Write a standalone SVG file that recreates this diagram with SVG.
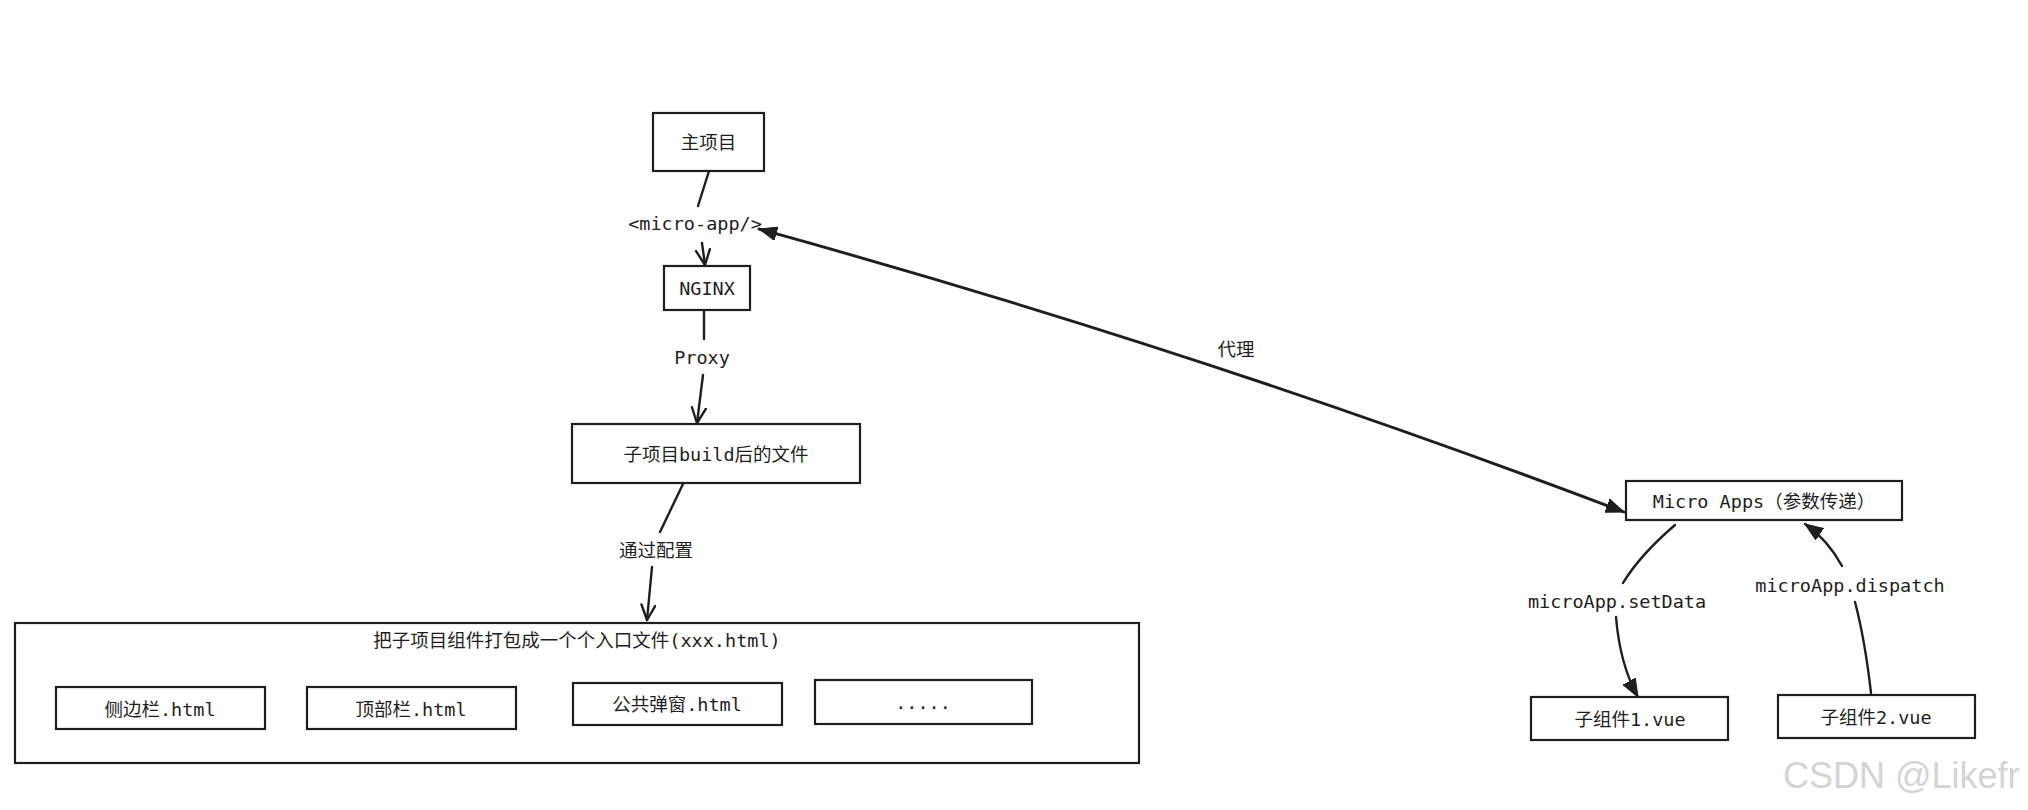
<svg xmlns="http://www.w3.org/2000/svg" width="2028" height="810" viewBox="0 0 2028 810">
<style>
.box{fill:#ffffff;stroke:#1e1e1e;stroke-width:2.2}
.t{font-family:"DejaVu Sans Mono","Noto Sans CJK SC",monospace;font-size:18.5px;fill:#1e1e1e;text-anchor:middle;dominant-baseline:central}
.c{fill:none;stroke:#1e1e1e;stroke-width:2.4;stroke-linecap:round}
.wm{font-family:"Liberation Sans",Arial,sans-serif;font-size:36px;fill:#d4d4d4;text-anchor:start}
</style>
<defs>
<marker id="open" markerUnits="userSpaceOnUse" markerWidth="20" markerHeight="20" refX="16" refY="8" orient="auto">
<path d="M1,1 L16,8 L1,15" fill="none" stroke="#1e1e1e" stroke-width="2.4" stroke-linecap="round" stroke-linejoin="round"/>
</marker>
<marker id="tri" markerUnits="userSpaceOnUse" markerWidth="22" markerHeight="16" refX="18" refY="7" orient="auto-start-reverse">
<path d="M0,0 L18,7 L0,14 Z" fill="#1e1e1e" stroke="#1e1e1e" stroke-width="1"/>
</marker>
</defs>
<rect width="2028" height="810" fill="#ffffff"/>

<g id="connectors">
<path class="c" d="M709,171 L698,206"/>
<path class="c" d="M702,243 L705,265" marker-end="url(#open)"/>
<path class="c" d="M704,310 L704,339"/>
<path class="c" d="M703,375 L697,423" marker-end="url(#open)"/>
<path class="c" d="M683,484 L660,532"/>
<path class="c" d="M652,567 L647,620" marker-end="url(#open)"/>
<path class="c" style="stroke-width:2.9" d="M759,229 Q1198,350 1624,512" marker-start="url(#tri)" marker-end="url(#tri)"/>
<path class="c" d="M1675,525 Q1640,555 1623,583"/>
<path class="c" d="M1616,617 Q1620,665 1638,697" marker-end="url(#tri)"/>
<path class="c" d="M1871,693 Q1865,640 1855,602"/>
<path class="c" d="M1842,566 Q1828,540 1805,524" marker-end="url(#tri)"/>
</g>

<g id="main-project">
<rect class="box" x="653" y="113" width="111" height="58"/>
<text class="t" x="708.5" y="142">主项目</text>
</g>
<g id="micro-app-label">
<text class="t" x="695" y="223">&lt;micro-app/&gt;</text>
</g>
<g id="nginx">
<rect class="box" x="664" y="266" width="86" height="44"/>
<text class="t" x="707" y="288">NGINX</text>
</g>
<g id="proxy-label">
<text class="t" x="702" y="357">Proxy</text>
</g>
<g id="sub-build">
<rect class="box" x="572" y="424" width="288" height="59"/>
<text class="t" x="716" y="454">子项目build后的文件</text>
</g>
<g id="config-label">
<text class="t" x="656" y="550">通过配置</text>
</g>
<g id="entry-files">
<rect class="box" x="15" y="623" width="1124" height="140"/>
<text class="t" x="577" y="640">把子项目组件打包成一个个入口文件(xxx.html)</text>
</g>
<g id="sidebar">
<rect class="box" x="56" y="687" width="209" height="42"/>
<text class="t" x="160" y="709">侧边栏.html</text>
</g>
<g id="topbar">
<rect class="box" x="307" y="687" width="209" height="42"/>
<text class="t" x="411" y="709">顶部栏.html</text>
</g>
<g id="popup">
<rect class="box" x="573" y="683" width="209" height="42"/>
<text class="t" x="677" y="704">公共弹窗.html</text>
</g>
<g id="more">
<rect class="box" x="815" y="680" width="217" height="44"/>
<text class="t" x="923" y="702">.....</text>
</g>
<g id="proxy-cn-label">
<text class="t" x="1236" y="349">代理</text>
</g>
<g id="micro-apps">
<rect class="box" x="1626" y="481" width="276" height="39"/>
<text class="t" x="1764" y="501">Micro Apps（参数传递）</text>
</g>
<g id="setdata-label">
<text class="t" x="1617" y="601">microApp.setData</text>
</g>
<g id="dispatch-label">
<text class="t" x="1850" y="585">microApp.dispatch</text>
</g>
<g id="child1">
<rect class="box" x="1531" y="697" width="197" height="43"/>
<text class="t" x="1630" y="719">子组件1.vue</text>
</g>
<g id="child2">
<rect class="box" x="1778" y="695" width="197" height="43"/>
<text class="t" x="1876" y="717">子组件2.vue</text>
</g>
<text class="wm" x="1783" y="788">CSDN @Likefr</text>
</svg>
